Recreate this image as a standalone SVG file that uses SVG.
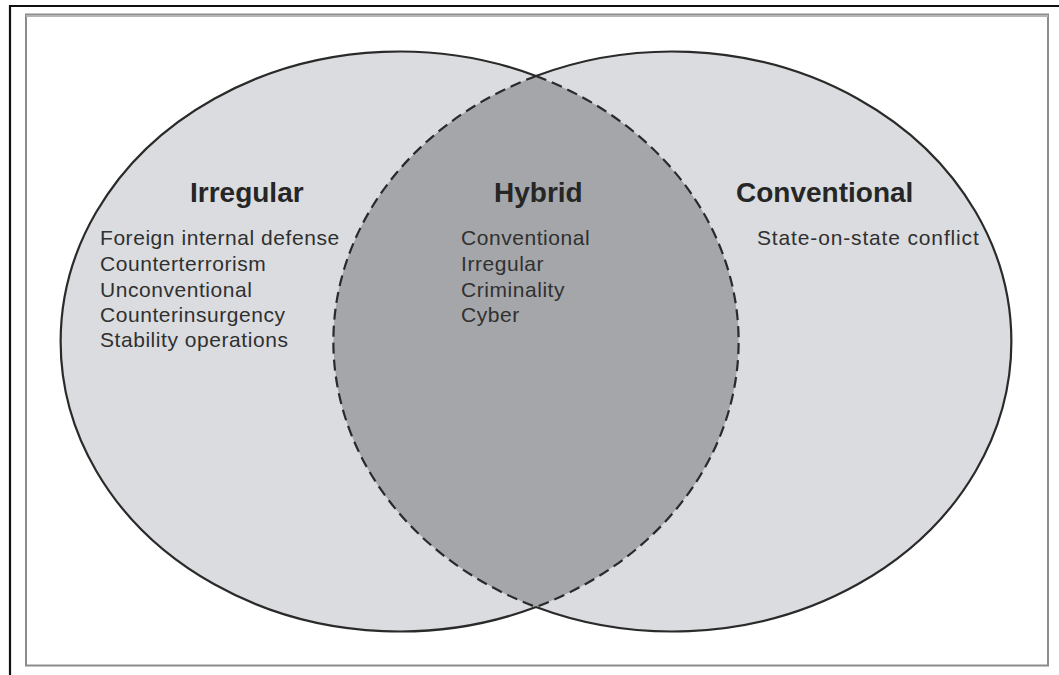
<svg xmlns="http://www.w3.org/2000/svg" width="1059" height="675" viewBox="0 0 1059 675">
<style>
.title{font-family:"Liberation Sans",Arial,sans-serif;font-weight:bold;font-size:28px;fill:#262626}
.item{font-family:"Liberation Sans",Arial,sans-serif;font-size:21px;letter-spacing:0.55px;fill:#303030}
.fill{fill:#dadcdf;stroke:none}
.outer{fill:none;stroke:#2a2a2a;stroke-width:2.2}
.lens{fill:#a4a6a9;stroke:#2a2a2a;stroke-width:2.2;stroke-dasharray:11 6}
</style>
<rect x="0" y="0" width="1059" height="675" fill="#ffffff"/>
<g id="frame">
<path d="M10,675 V6 H1059" fill="none" stroke="#111" stroke-width="2.2"/>
<rect x="26" y="14.5" width="1022" height="651" fill="none" stroke="#8c8c8c" stroke-width="2"/>
<line x1="26" y1="16" x2="1048" y2="16" stroke="#b5b5b5" stroke-width="2"/>
</g>
<g id="irregular">
<ellipse class="fill" cx="400" cy="341.5" rx="339" ry="290"/>
</g>
<g id="conventional">
<ellipse class="fill" cx="672" cy="341.5" rx="339" ry="290"/>
</g>
<g id="hybrid">
<path class="lens" d="M536,76 A339,290 0 0,1 536,607 A339,290 0 0,1 536,76 Z"/>
</g>
<g id="connectors">
<path class="outer" d="M536,76 A339,290 0 1,0 536,607"/>
<path class="outer" d="M536,76 A339,290 0 1,1 536,607"/>
</g>
<g id="irregular-text">
<text class="title" x="190" y="202">Irregular</text>
<text class="item" x="100" y="245">Foreign internal defense</text>
<text class="item" x="100" y="271">Counterterrorism</text>
<text class="item" x="100" y="296.5">Unconventional</text>
<text class="item" x="100" y="321.5">Counterinsurgency</text>
<text class="item" x="100" y="347">Stability operations</text>
</g>
<g id="hybrid-text">
<text class="title" x="494" y="202">Hybrid</text>
<text class="item" x="461" y="245">Conventional</text>
<text class="item" x="461" y="271">Irregular</text>
<text class="item" x="461" y="296.5">Criminality</text>
<text class="item" x="461" y="321.5">Cyber</text>
</g>
<g id="conventional-text">
<text class="title" x="736" y="202">Conventional</text>
<text class="item" x="757" y="245" style="letter-spacing:0.85px">State-on-state conflict</text>
</g>
</svg>
